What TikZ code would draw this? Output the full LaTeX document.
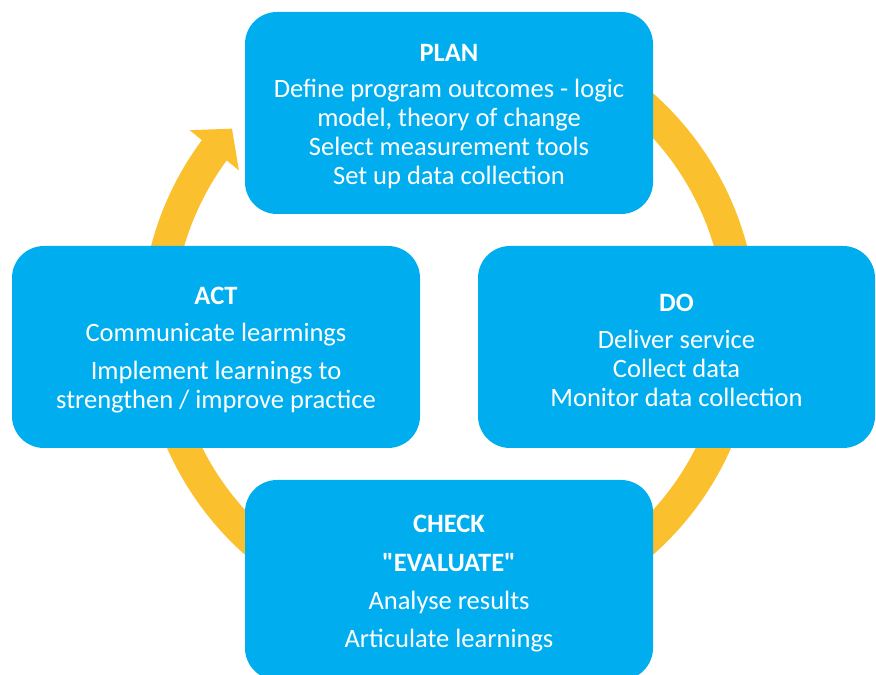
\documentclass[tikz,border=0pt]{standalone}
\usepackage{fontspec}
\setmainfont{Carlito}[Ligatures=TeXOff]
\usetikzlibrary{arrows.meta,bending}

\definecolor{boxblue}{RGB}{0,174,239}
\definecolor{ringgold}{RGB}{251,192,45}

% stage heading, with a strut that pushes the text block down a little
\newcommand{\stagehead}[1]{\rule{0pt}{24pt}\textbf{#1}}

\begin{document}
\begin{tikzpicture}[x=1pt, y=1pt,
    stage/.style={fill=boxblue, rounded corners=32pt, text=white,
      minimum height=202pt, inner sep=0pt, align=center,
      font=\fontsize{26.5}{29}\selectfont},
    ringarr/.style={line width=32pt, draw=ringgold,
      -{Triangle[width=62pt, length=28pt]}}]
  \useasboundingbox (0,0) rectangle (876,675);
  % --- Cycle ring behind the four stages ---
  \coordinate (hub) at (449,351);
  \draw[ringarr] ([shift={(80:292)}]hub)
    arc[start angle=80, end angle=-222, radius=292];
  % --- Stages ---
  \node[stage, minimum width=408pt] (plan) at (449,562)
    {\stagehead{PLAN}\\[7pt]
     Define program outcomes - logic\\
     model, theory of change\\
     Select measurement tools\\
     Set up data collection};
  \node[stage, minimum width=397pt] (do) at (676.5,328)
    {\stagehead{DO}\\[8pt]
     Deliver service\\
     Collect data\\
     Monitor data collection};
  \node[stage, minimum width=408pt, minimum height=200pt] (check) at (449,95)
    {\stagehead{CHECK}\\[10pt]
     \textbf{"EVALUATE"}\\[9pt]
     Analyse results\\[9pt]
     Articulate learnings};
  \node[stage, minimum width=408pt] (act) at (216,328)
    {\stagehead{ACT}\\[8pt]
     Communicate learmings\\[9pt]
     Implement learnings to\\
     strengthen / improve practice};
\end{tikzpicture}
\end{document}
